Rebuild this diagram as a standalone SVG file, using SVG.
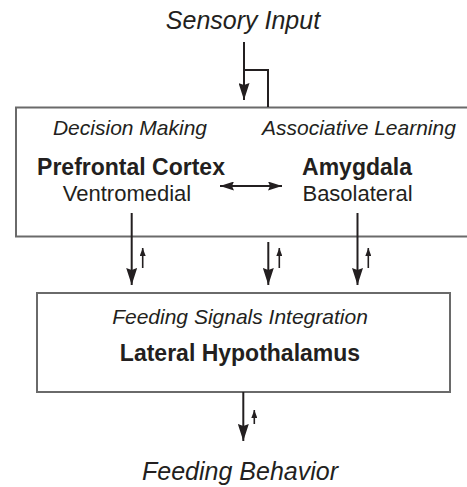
<svg xmlns="http://www.w3.org/2000/svg" width="467" height="487" viewBox="0 0 467 487">
  <style>
    .box { fill: #ffffff; stroke: #6a6a6a; stroke-width: 2; }
    .lbl { font-family: "Liberation Sans", Arial, sans-serif; fill: #231f20; text-anchor: middle; }
    .it { font-style: italic; }
    .b { font-weight: bold; }
    .ln { stroke: #231f20; fill: none; stroke-width: 2; }
    .sm { stroke: #231f20; fill: none; stroke-width: 1.6; }
  </style>
  <defs>
    <marker id="big" markerUnits="userSpaceOnUse" markerWidth="17" markerHeight="11" viewBox="0 0 17 11" refX="17" refY="5.5" orient="auto">
      <path d="M0,0 L17,5.5 L0,11 L2,5.5 z" fill="#231f20"/>
    </marker>
    <marker id="mid" markerUnits="userSpaceOnUse" markerWidth="14" markerHeight="9" viewBox="0 0 14 9" refX="14" refY="4.5" orient="auto-start-reverse">
      <path d="M0,0 L14,4.5 L0,9 L2,4.5 z" fill="#231f20"/>
    </marker>
    <marker id="small" markerUnits="userSpaceOnUse" markerWidth="8" markerHeight="6" viewBox="0 0 8 6" refX="8" refY="3" orient="auto">
      <path d="M0,0 L8,3 L0,6 z" fill="#231f20"/>
    </marker>
  </defs>

  <text class="lbl it" x="243" y="29" font-size="25">Sensory Input</text>
  <text class="lbl it" x="240" y="480" font-size="25">Feeding Behavior</text>

  <g id="top-box">
    <rect class="box" x="16" y="107.5" width="460" height="129"/>
    <text class="lbl it" x="130" y="135" font-size="21">Decision Making</text>
    <text class="lbl it" x="359" y="135" font-size="21">Associative Learning</text>
  </g>
  <g id="prefrontal">
    <text class="lbl b" x="131" y="175" font-size="23">Prefrontal Cortex</text>
    <text class="lbl" x="127" y="201" font-size="22">Ventromedial</text>
  </g>
  <g id="amygdala">
    <text class="lbl b" x="357" y="175" font-size="23">Amygdala</text>
    <text class="lbl" x="357.5" y="201" font-size="22">Basolateral</text>
  </g>
  <g id="hypothalamus">
    <rect class="box" x="37" y="293" width="413" height="99"/>
    <text class="lbl it" x="240" y="324" font-size="21">Feeding Signals Integration</text>
    <text class="lbl b" x="240" y="361" font-size="23">Lateral Hypothalamus</text>
  </g>

  <g id="connectors">
    <line class="ln" x1="244" y1="42" x2="244" y2="100" marker-end="url(#big)"/>
    <polyline class="ln" points="244,70 268,70 268,107"/>
    <line class="ln" x1="220" y1="186" x2="282" y2="186" marker-start="url(#mid)" marker-end="url(#mid)"/>

    <line class="ln" x1="131.7" y1="213" x2="131.7" y2="285" marker-end="url(#big)"/>
    <line class="sm" x1="142.7" y1="268" x2="142.7" y2="248" marker-end="url(#small)"/>

    <line class="ln" x1="268.3" y1="242" x2="268.3" y2="285" marker-end="url(#big)"/>
    <line class="sm" x1="279.3" y1="268" x2="279.3" y2="248" marker-end="url(#small)"/>

    <line class="ln" x1="357.5" y1="213" x2="357.5" y2="285" marker-end="url(#big)"/>
    <line class="sm" x1="368.3" y1="268" x2="368.3" y2="248" marker-end="url(#small)"/>

    <line class="ln" x1="243.3" y1="392" x2="243.3" y2="441" marker-end="url(#big)"/>
    <line class="sm" x1="254.3" y1="424" x2="254.3" y2="410" marker-end="url(#small)"/>
  </g>
</svg>
